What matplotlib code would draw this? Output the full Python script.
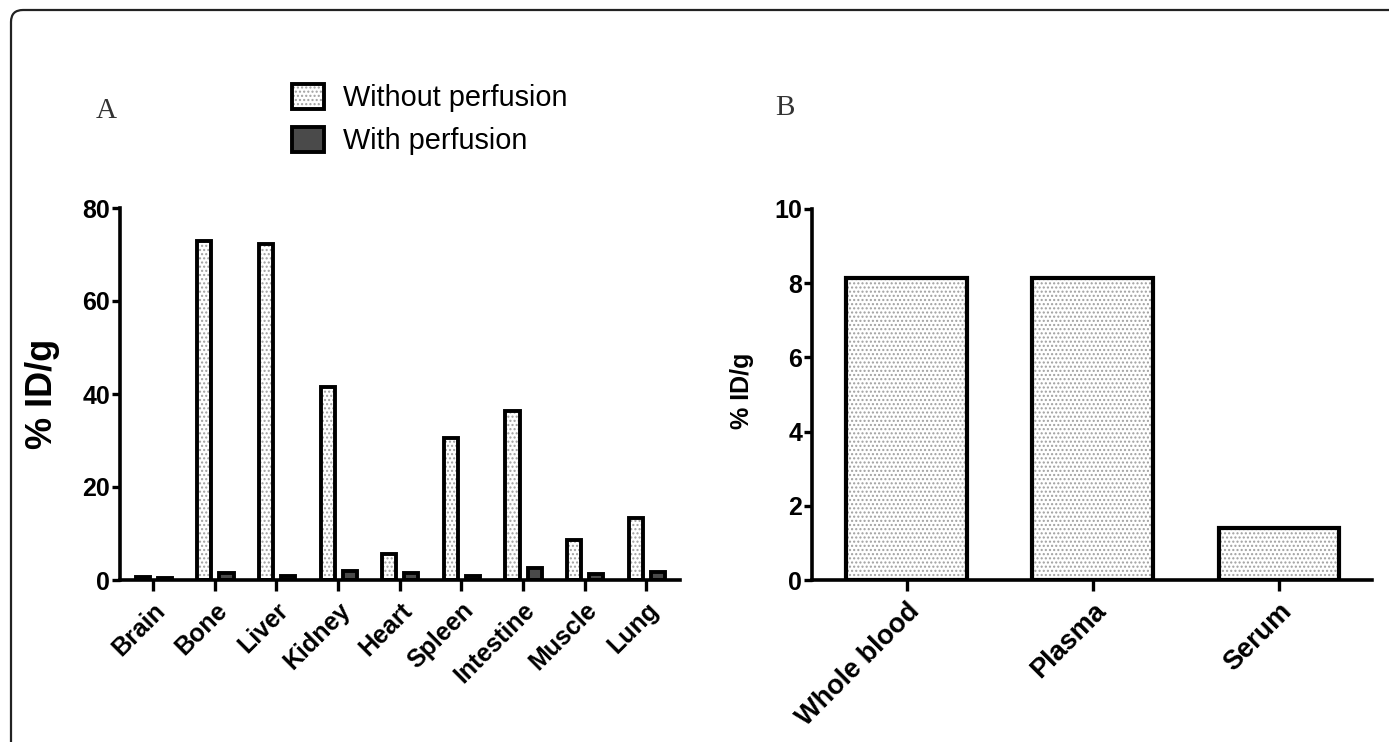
import matplotlib
matplotlib.use('Agg')
import matplotlib.pyplot as plt
import numpy as np
from matplotlib.patches import Patch, FancyBboxPatch
from matplotlib.transforms import IdentityTransform

# ---- data ----
organs = ['Brain', 'Bone', 'Liver', 'Kidney', 'Heart', 'Spleen', 'Intestine', 'Muscle', 'Lung']
without_perfusion = [0.7, 73.0, 72.3, 41.6, 5.6, 30.5, 36.4, 8.7, 13.4]
with_perfusion = [0.5, 1.4, 0.9, 2.0, 1.6, 0.9, 2.6, 1.3, 1.8]
blood_fractions = ['Whole blood', 'Plasma', 'Serum']
blood_values = [8.15, 8.15, 1.4]
a_yticks = [0, 20, 40, 60, 80]
b_yticks = [0, 2, 4, 6, 8, 10]

plt.rcParams['font.family'] = ['Liberation Sans', 'DejaVu Sans']
plt.rcParams['hatch.linewidth'] = 1.0

W, H = 1389, 742
fig = plt.figure(figsize=(W / 100, H / 100), dpi=100)
fig.patch.set_facecolor('white')


def px_axes(l, r, t, b):
    return [l / W, 1 - b / H, (r - l) / W, (b - t) / H]


axA = fig.add_axes(px_axes(120, 680, 208, 580))
axB = fig.add_axes(px_axes(812, 1372, 209, 580))

hatch_gray = '#a0a0a0'
dark = '#4a4a4a'
lw = 2.8

# Panel A
x = np.arange(len(organs))
wbar = 0.23
axA.bar(x - 0.17, without_perfusion, wbar, color='white', edgecolor=hatch_gray, hatch='....', linewidth=0)
axA.bar(x - 0.17, without_perfusion, wbar, fill=False, edgecolor='black', linewidth=lw)
axA.bar(x + 0.19, with_perfusion, wbar, color=dark, edgecolor='black', linewidth=lw)
axA.set_xlim(-0.54, 8.55)
axA.set_ylim(0, 80)
axA.set_yticks(a_yticks)

# Panel B
xb = np.arange(len(blood_fractions))
axB.bar(xb, blood_values, 0.65, color='white', edgecolor=hatch_gray, hatch='....', linewidth=0)
axB.bar(xb, blood_values, 0.65, fill=False, edgecolor='black', linewidth=3.0)
axB.set_xlim(-0.51, 2.5)
axB.set_ylim(0, 10)
axB.set_yticks(b_yticks)


def style(ax, labels, xpos, xfs):
    for s in ['top', 'right']:
        ax.spines[s].set_visible(False)
    for s in ['left', 'bottom']:
        ax.spines[s].set_linewidth(2.6)
    ax.tick_params(axis='y', width=2.4, length=6, labelsize=18, pad=1)
    ax.tick_params(axis='x', width=2.4, length=8, pad=5)
    for lab in ax.get_yticklabels():
        lab.set_fontweight('bold')
    ax.set_xticks(xpos)
    ax.set_xticklabels(labels, rotation=45, ha='right', va='top', rotation_mode='anchor',
                       fontweight='bold', fontsize=xfs)


style(axA, organs, x, 18)
style(axB, blood_fractions, xb, 19.5)

# y labels
fig.text(43 / W, 1 - 394 / H, '% ID/g', rotation=90, fontsize=26, fontweight='bold', ha='center', va='center')
fig.text(742 / W, 1 - 391 / H, '% ID/g', rotation=90, fontsize=18, fontweight='bold', ha='center', va='center')

# panel letters
fig.text(106 / W, 1 - 111 / H, 'A', family='Liberation Serif', fontsize=21, ha='center', va='center', color='#333333')
fig.text(785 / W, 1 - 108 / H, 'B', family='Liberation Serif', fontsize=21, ha='center', va='center', color='#333333')

# legend
h1 = (Patch(facecolor='white', edgecolor=hatch_gray, hatch='....', linewidth=0),
      Patch(fill=False, edgecolor='black', linewidth=lw))
h2 = Patch(facecolor=dark, edgecolor='black', linewidth=lw)
fig.legend(handles=[h1, h2], labels=['Without perfusion', 'With perfusion'],
           loc='upper left', bbox_to_anchor=(292 / W, 1 - 84 / H), frameon=False, fontsize=20.8,
           handlelength=1.1, handleheight=0.95, handletextpad=0.65, labelspacing=0.5,
           borderaxespad=0, borderpad=0)

# outer rounded frame
frame = FancyBboxPatch((11, -60), 1600, H - 10 + 60, boxstyle='round,pad=0,rounding_size=12',
                       transform=IdentityTransform(), fill=False, edgecolor='#222222', linewidth=1.6)
fig.add_artist(frame)

fig.savefig('out.png', dpi=100)
